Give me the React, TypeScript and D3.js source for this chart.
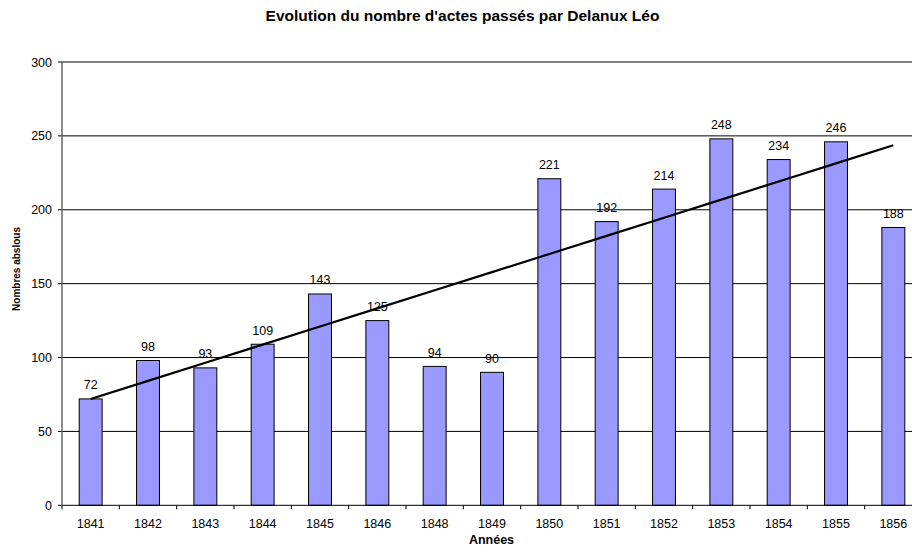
import React from "react";
import * as d3 from "d3";

const years = ["1841","1842","1843","1844","1845","1846","1848","1849","1850","1851","1852","1853","1854","1855","1856"];
const values = [72,98,93,109,143,125,94,90,221,192,214,248,234,246,188];
const yTicks = [0,50,100,150,200,250,300];

const W = 912, H = 556;
const left = 62, right = 922, top = 62, bottom = 505.3;

export default function App() {
  const x = d3.scaleBand<string>().domain(years).range([left, right]).paddingInner(0).paddingOuter(0);
  const y = d3.scaleLinear().domain([0, 300]).range([bottom, top]);
  const bw = x.bandwidth() * 0.4;

  // linear regression over category index
  const idx = values.map((_, i) => i);
  const mx = d3.mean(idx)!;
  const my = d3.mean(values)!;
  const sxy = d3.sum(idx, (i) => (i - mx) * (values[i] - my));
  const sxx = d3.sum(idx, (i) => (i - mx) * (i - mx));
  const slope = sxy / sxx;
  const icpt = my - slope * mx;
  const cx = (i: number) => x(years[i])! + x.bandwidth() / 2;
  const trend = d3.line<number>().x((i) => cx(i)).y((i) => y(icpt + slope * i));

  const font = "'Liberation Sans', Arial, sans-serif";
  return (
    <svg width={W} height={H} style={{ position: "absolute", left: 0, top: 0, background: "#fff" }} fontFamily={font}>
      <rect x={0} y={0} width={W} height={H} fill="#fff" />
      <text x={462.5} y={20.5} textAnchor="middle" fontSize={15.5} fontWeight="bold">Evolution du nombre d'actes passés par Delanux Léo</text>
      {yTicks.map((t) => (
        <g key={t}>
          {t > 0 && <line x1={left} x2={W} y1={y(t)} y2={y(t)} stroke="#000" strokeWidth={1} />}
          <line x1={left - 4} x2={left} y1={y(t)} y2={y(t)} stroke="#000" />
          <text x={52} y={y(t) + 4.5} textAnchor="end" fontSize={12.5}>{t}</text>
        </g>
      ))}
      {years.map((yr, i) => (
        <g key={yr}>
          <rect x={cx(i) - bw / 2} y={y(values[i])} width={bw} height={y(0) - y(values[i])} fill="#9999FF" stroke="#000" strokeWidth={1} />
          <text x={cx(i)} y={y(values[i]) - 9.5} textAnchor="middle" fontSize={12.5}>{values[i]}</text>
          <text x={cx(i)} y={527.5} textAnchor="middle" fontSize={12.5}>{yr}</text>
          <line x1={x(yr)!} x2={x(yr)!} y1={bottom} y2={bottom + 4} stroke="#000" />
        </g>
      ))}
      <line x1={left} x2={W} y1={bottom} y2={bottom} stroke="#000" />
      <line x1={left} x2={left} y1={top} y2={bottom} stroke="#666" strokeWidth={1.5} />
      <path d={trend(idx) || ""} fill="none" stroke="#000" strokeWidth={2.2} />
      <text x={491.5} y={544} textAnchor="middle" fontSize={12.5} fontWeight="bold">Années</text>
      <text transform={`translate(20,${269}) rotate(-90)`} textAnchor="middle" fontSize={10} fontWeight="bold">Nombres abslous</text>
    </svg>
  );
}
